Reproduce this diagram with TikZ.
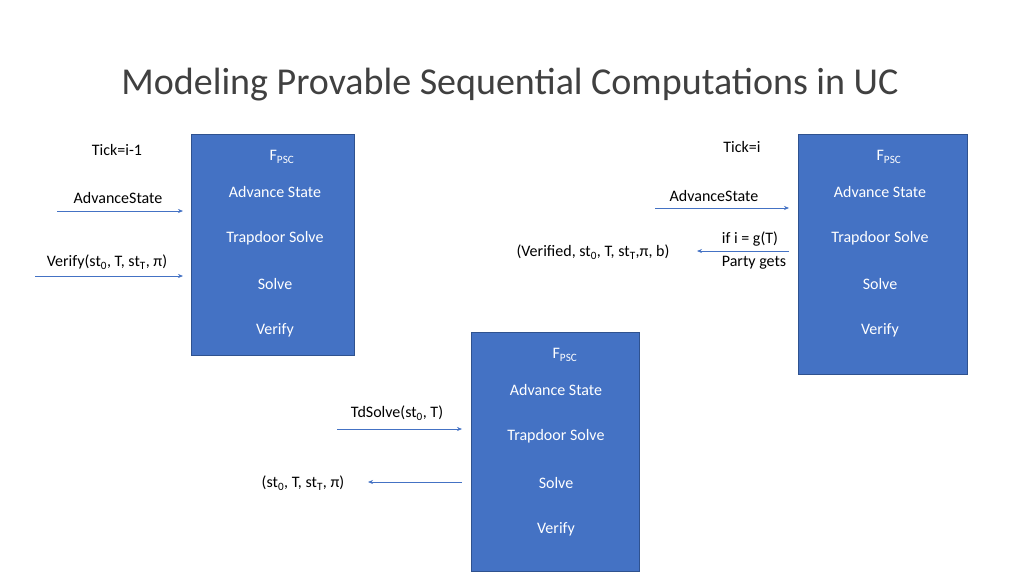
\documentclass[tikz,border=0pt]{standalone}
\usepackage{fontspec}
\setmainfont{Carlito}
\usetikzlibrary{arrows.meta}
\definecolor{boxblue}{HTML}{4472C4}
\definecolor{boxedge}{HTML}{2F528F}
\definecolor{titlegray}{HTML}{404040}
\begin{document}
\begin{tikzpicture}[x=1pt,y=-1pt,
  fbox/.style={fill=boxblue,draw=boxedge,line width=0.8pt},
  wt/.style={text=white,font=\fontsize{16}{18}\selectfont,inner sep=0pt},
  bt/.style={text=black,font=\fontsize{16}{18}\selectfont,inner sep=0pt},
  arr/.style={draw=boxblue,line width=0.6pt,-{Stealth[length=5pt,width=4pt]}}]
\useasboundingbox (0,0) rectangle (1024,576);
\node[text=titlegray,font=\fontsize{38}{42}\selectfont] (title) at (510,85) {Modeling Provable Sequential Computations in UC};
% box 1
\draw[fbox] (191,134) rectangle (354,355);
\node[wt] (f1) at (282,157) {F\textsubscript{PSC}};
\node[wt] (a1) at (275,192) {Advance State};
\node[wt] (t1) at (275,238) {Trapdoor Solve};
\node[wt] (s1) at (275,284) {Solve};
\node[wt] (v1) at (275,330) {Verify};
% box 2
\draw[fbox] (798,134) rectangle (967,374);
\node[wt] (f2) at (889,157) {F\textsubscript{PSC}};
\node[wt] (a2) at (880,192) {Advance State};
\node[wt] (t2) at (880,238) {Trapdoor Solve};
\node[wt] (s2) at (880,284) {Solve};
\node[wt] (v2) at (880,330) {Verify};
% box 3
\draw[fbox] (471,332) rectangle (639,571);
\node[wt] (f3) at (565,355) {F\textsubscript{PSC}};
\node[wt] (a3) at (556,390) {Advance State};
\node[wt] (t3) at (556,436) {Trapdoor Solve};
\node[wt] (s3) at (556,483) {Solve};
\node[wt] (v3) at (556,529) {Verify};
% labels
\node[bt] (tick1) at (117,150) {Tick=i-1};
\node[bt] (adv1) at (118,198) {AdvanceState};
\node[bt] (ver1) at (107,262) {Verify(st\textsubscript{0}, T, st\textsubscript{T}, π)};
\node[bt] (tick2) at (742,147) {Tick=i};
\node[bt] (adv2) at (714,196) {AdvanceState};
\node[bt] (res2) at (593,252) {(Verified, st\textsubscript{0}, T, st\textsubscript{T},π, b)};
\node[bt] (if2) at (750,239) {if i = g(T)};
\node[bt] (pg2) at (754,263) {Party gets};
\node[bt] (td3) at (397,413) {TdSolve(st\textsubscript{0}, T)};
\node[bt] (res3) at (303,483) {(st\textsubscript{0}, T, st\textsubscript{T}, π)};
% arrows
\coordinate (p1) at (57,211); \coordinate (q1) at (183,211);
\coordinate (p2) at (35,276); \coordinate (q2) at (183,276);
\coordinate (p3) at (655,208); \coordinate (q3) at (789,208);
\coordinate (p4) at (789,251); \coordinate (q4) at (697,251);
\coordinate (p5) at (337,429); \coordinate (q5) at (462,429);
\coordinate (p6) at (462,482); \coordinate (q6) at (368,482);
\draw[arr] (p1) -- (q1);
\draw[arr] (p2) -- (q2);
\draw[arr] (p3) -- (q3);
\draw[arr] (p4) -- (q4);
\draw[arr] (p5) -- (q5);
\draw[arr] (p6) -- (q6);
\end{tikzpicture}
\end{document}
